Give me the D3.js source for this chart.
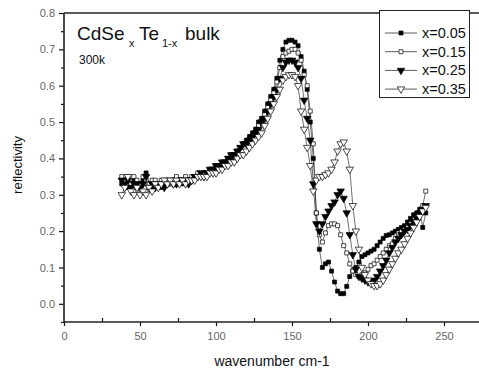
<!DOCTYPE html>
<html>
<head>
<meta charset="utf-8">
<script src="https://cdn.jsdelivr.net/npm/d3@7"></script>
<style>
  body { margin: 0; background: #fff; }
  text { font-family: Arial, "Liberation Sans", sans-serif; }
</style>
</head>
<body>
<script>
"use strict";
// wavenumber (cm-1) of every measured point
const wavenumbers = [38, 40, 42, 44, 46, 48, 50, 52, 54, 56, 58, 60, 62, 64, 66, 68, 70, 72, 74, 76,
    78, 80, 82, 84, 86, 88, 90, 92, 94, 96, 98, 100, 102, 104, 106, 108, 110, 112, 114, 116,
    118, 120, 122, 124, 126, 128, 130, 132, 134, 136, 138, 140, 142, 144, 146, 148, 150, 152, 154, 156,
    158, 160, 162, 164, 166, 168, 170, 172, 174, 176, 178, 180, 182, 184, 186, 188, 190, 192, 194, 196,
    198, 200, 202, 204, 206, 208, 210, 212, 214, 216, 218, 220, 222, 224, 226, 228, 230, 232, 234, 236, 238]

const refl005 = [0.33, 0.34, 0.32, 0.33, 0.34, 0.32, 0.33, 0.34, 0.36, 0.33, 0.32, 0.33, 0.33, 0.32, 0.33, 0.33, 0.33, 0.34, 0.33, 0.34,
    0.33, 0.34, 0.34, 0.34, 0.35, 0.35, 0.35, 0.36, 0.36, 0.36, 0.37, 0.37, 0.38, 0.38, 0.39, 0.40, 0.40, 0.41, 0.42, 0.43,
    0.44, 0.45, 0.46, 0.47, 0.48, 0.50, 0.51, 0.53, 0.55, 0.57, 0.59, 0.62, 0.67, 0.70, 0.72, 0.725, 0.725, 0.72, 0.71, 0.68,
    0.64, 0.59, 0.50, 0.40, 0.25, 0.15, 0.10, 0.11, 0.115, 0.09, 0.06, 0.035, 0.028, 0.028, 0.048, 0.075, 0.09, 0.10, 0.115, 0.13,
    0.135, 0.14, 0.145, 0.15, 0.16, 0.17, 0.18, 0.188, 0.19, 0.195, 0.20, 0.205, 0.21, 0.215, 0.225, 0.235, 0.245, 0.25, 0.26, 0.21, 0.25]

const refl015 = [0.35, 0.34, 0.35, 0.33, 0.35, 0.34, 0.33, 0.35, 0.34, 0.33, 0.34, 0.34, 0.33, 0.34, 0.34, 0.34, 0.33, 0.34, 0.35, 0.34,
    0.34, 0.35, 0.34, 0.35, 0.35, 0.36, 0.35, 0.36, 0.36, 0.37, 0.37, 0.38, 0.38, 0.39, 0.39, 0.40, 0.41, 0.41, 0.42, 0.43,
    0.44, 0.44, 0.45, 0.46, 0.47, 0.49, 0.50, 0.52, 0.54, 0.56, 0.58, 0.61, 0.65, 0.68, 0.69, 0.695, 0.70, 0.70, 0.69, 0.67,
    0.63, 0.60, 0.53, 0.44, 0.25, 0.19, 0.17, 0.195, 0.215, 0.22, 0.22, 0.215, 0.19, 0.16, 0.14, 0.11, 0.09, 0.08, 0.075, 0.08,
    0.085, 0.095, 0.105, 0.11, 0.12, 0.13, 0.14, 0.15, 0.16, 0.165, 0.18, 0.195, 0.20, 0.205, 0.21, 0.22, 0.225, 0.235, 0.25, 0.27, 0.31]

const refl025 = [0.34, 0.33, 0.34, 0.32, 0.33, 0.33, 0.32, 0.33, 0.35, 0.32, 0.33, 0.32, 0.33, 0.33, 0.32, 0.33, 0.34, 0.33, 0.33, 0.34,
    0.34, 0.34, 0.33, 0.34, 0.35, 0.35, 0.36, 0.35, 0.36, 0.37, 0.37, 0.38, 0.38, 0.39, 0.39, 0.40, 0.41, 0.41, 0.42, 0.43,
    0.44, 0.44, 0.45, 0.46, 0.47, 0.48, 0.50, 0.51, 0.53, 0.55, 0.57, 0.59, 0.62, 0.65, 0.665, 0.67, 0.67, 0.665, 0.65, 0.62,
    0.56, 0.51, 0.45, 0.33, 0.22, 0.20, 0.22, 0.24, 0.255, 0.27, 0.28, 0.30, 0.31, 0.29, 0.25, 0.19, 0.135, 0.095, 0.075, 0.07,
    0.065, 0.06, 0.06, 0.065, 0.075, 0.09, 0.105, 0.12, 0.14, 0.155, 0.17, 0.18, 0.19, 0.20, 0.205, 0.215, 0.225, 0.235, 0.25, 0.26, 0.27]

const refl035 = [0.30, 0.32, 0.35, 0.31, 0.30, 0.32, 0.30, 0.31, 0.30, 0.32, 0.31, 0.33, 0.32, 0.33, 0.34, 0.33, 0.34, 0.33, 0.34, 0.33,
    0.34, 0.33, 0.34, 0.34, 0.34, 0.35, 0.35, 0.35, 0.35, 0.36, 0.36, 0.36, 0.37, 0.37, 0.38, 0.38, 0.39, 0.39, 0.40, 0.41,
    0.41, 0.42, 0.43, 0.44, 0.45, 0.46, 0.47, 0.49, 0.51, 0.53, 0.55, 0.57, 0.59, 0.615, 0.625, 0.63, 0.63, 0.625, 0.60, 0.53,
    0.48, 0.43, 0.38, 0.31, 0.34, 0.35, 0.35, 0.355, 0.36, 0.37, 0.39, 0.42, 0.44, 0.445, 0.42, 0.37, 0.27, 0.20, 0.15, 0.10,
    0.08, 0.065, 0.055, 0.05, 0.05, 0.055, 0.065, 0.08, 0.095, 0.11, 0.125, 0.14, 0.15, 0.165, 0.18, 0.195, 0.21, 0.225, 0.24, 0.255, 0.265]

const seriesNames = ["x=0.05", "x=0.15", "x=0.25", "x=0.35"]
const xTicks = [0, 50, 100, 150, 200, 250]
const yTicks = [0.0, 0.1, 0.2, 0.3, 0.4, 0.5, 0.6, 0.7, 0.8]

;(function(){
    const measurements = {
        width: 479,
        height: 375,
        left: 64,
        top: 13,
        bottom: 322
    }

    const svgContainer = d3.select("body").append("svg")
        .attr("width", measurements.width)
        .attr("height", measurements.height)

    const scaleX = d3.scaleLinear()
        .domain([0, 275])
        .range([measurements.left, 482])
    const scaleY = d3.scaleLinear()
        .domain([-0.05, 0.8])
        .range([measurements.bottom, measurements.top])

    // marker look per series: shape + filled / open
    const markers = [
        { symbol: d3.symbolSquare, size: 16, filled: true, rotate: 0 },
        { symbol: d3.symbolSquare, size: 16, filled: false, rotate: 0 },
        { symbol: d3.symbolTriangle, size: 24, filled: true, rotate: 180 },
        { symbol: d3.symbolTriangle, size: 24, filled: false, rotate: 180 }
    ]
    const allSeries = [refl005, refl015, refl025, refl035]

    drawAxes()
    plotData()
    drawLegend()
    drawTexts()

    function drawAxes() {
        const xAxis = d3.axisBottom(scaleX)
            .tickValues(xTicks)
            .tickFormat(d3.format("d"))
            .tickSize(4)
        const xMinor = d3.axisBottom(scaleX)
            .tickValues([25, 75, 125, 175, 225, 275])
            .tickFormat("")
            .tickSize(-4)
        const yAxis = d3.axisLeft(scaleY)
            .tickValues(yTicks)
            .tickFormat(d3.format(".1f"))
            .tickSize(5)
        const yMinor = d3.axisLeft(scaleY)
            .tickValues([-0.05, 0.05, 0.15, 0.25, 0.35, 0.45, 0.55, 0.65, 0.75])
            .tickFormat("")
            .tickSize(3)

        const gx = svgContainer.append("g")
            .attr("transform", "translate(0," + measurements.bottom + ")")
            .call(xAxis)
        svgContainer.append("g")
            .attr("transform", "translate(0," + measurements.bottom + ")")
            .call(xMinor)
        const gy = svgContainer.append("g")
            .attr("transform", "translate(" + measurements.left + ",0)")
            .call(yAxis)
        svgContainer.append("g")
            .attr("transform", "translate(" + measurements.left + ",0)")
            .call(yMinor)

        svgContainer.selectAll(".domain").remove()
        svgContainer.selectAll(".tick line").attr("stroke", "#111").attr("stroke-width", 1.2)
        gx.selectAll("text").attr("fill", "#666").attr("font-size", 11).attr("dy", "1.0em")
        gy.selectAll("text").attr("fill", "#666").attr("font-size", 11).attr("dx", "-1px")

        // plot frame
        const frame = svgContainer.append("g")
            .attr("stroke", "#222")
            .attr("stroke-width", 1.6)
        frame.append("line")
            .attr("x1", measurements.left).attr("x2", measurements.left)
            .attr("y1", measurements.top).attr("y2", measurements.bottom)
        frame.append("line")
            .attr("x1", measurements.left).attr("x2", measurements.width)
            .attr("y1", measurements.top).attr("y2", measurements.top)
        frame.append("line")
            .attr("x1", measurements.left).attr("x2", measurements.width)
            .attr("y1", measurements.bottom).attr("y2", measurements.bottom)
    }

    function plotData() {
        const line = d3.line()
            .x((d, i) => scaleX(wavenumbers[i]))
            .y((d) => scaleY(d))

        allSeries.forEach((values, k) => {
            svgContainer.append("path")
                .datum(values)
                .attr("d", line)
                .attr("fill", "none")
                .attr("stroke", "#333")
                .attr("stroke-width", 0.7)
        })

        allSeries.forEach((values, k) => {
            const m = markers[k]
            const shape = d3.symbol().type(m.symbol).size(m.size)
            svgContainer.append("g")
                .selectAll("path")
                .data(values)
                .enter()
                .append("path")
                    .attr("d", shape)
                    .attr("transform", (d, i) => "translate(" + scaleX(wavenumbers[i]) + "," + scaleY(d) + ") rotate(" + m.rotate + ")")
                    .attr("fill", m.filled ? "#000" : "#fff")
                    .attr("stroke", "#000")
                    .attr("stroke-width", 0.7)
        })
    }

    function drawLegend() {
        const legend = svgContainer.append("g")
        legend.append("rect")
            .attr("x", 379.5).attr("y", 10.5)
            .attr("width", 90).attr("height", 87)
            .attr("fill", "#fff")
            .attr("stroke", "#222")
            .attr("stroke-width", 1)

        seriesNames.forEach((name, k) => {
            const y = 33 + k * 18.7
            const m = markers[k]
            legend.append("line")
                .attr("x1", 385).attr("x2", 417)
                .attr("y1", y).attr("y2", y)
                .attr("stroke", "#333").attr("stroke-width", 0.8)
            legend.append("path")
                .attr("d", d3.symbol().type(m.symbol).size(m.size)())
                .attr("transform", "translate(401," + y + ") rotate(" + m.rotate + ")")
                .attr("fill", m.filled ? "#000" : "#fff")
                .attr("stroke", "#000")
                .attr("stroke-width", 0.7)
            legend.append("text")
                .attr("x", 422).attr("y", y + 5)
                .attr("font-size", 14.5)
                .attr("fill", "#111")
                .text(name)
        })
    }

    function drawTexts() {
        const title = svgContainer.append("text")
            .attr("y", 40)
            .attr("fill", "#111")
            .attr("font-size", 19)
        title.append("tspan").attr("x", 77).text("CdSe")
        title.append("tspan").attr("x", 129).attr("y", 47).attr("font-size", 11).text("x")
        title.append("tspan").attr("x", 139).attr("y", 40).text("Te")
        title.append("tspan").attr("x", 162).attr("y", 47).attr("font-size", 11).text("1-x")
        title.append("tspan").attr("x", 185).attr("y", 40).text("bulk")

        svgContainer.append("text")
            .attr("x", 79).attr("y", 64)
            .attr("font-size", 12)
            .attr("fill", "#111")
            .text("300k")

        svgContainer.append("text")
            .attr("x", 272).attr("y", 366)
            .attr("text-anchor", "middle")
            .attr("font-size", 14)
            .attr("fill", "#111")
            .text("wavenumber cm-1")

        svgContainer.append("text")
            .attr("transform", "translate(22,165) rotate(-90)")
            .attr("text-anchor", "middle")
            .attr("font-size", 13)
            .attr("fill", "#111")
            .text("reflectivity")
    }
})()
</script>
</body>
</html>
